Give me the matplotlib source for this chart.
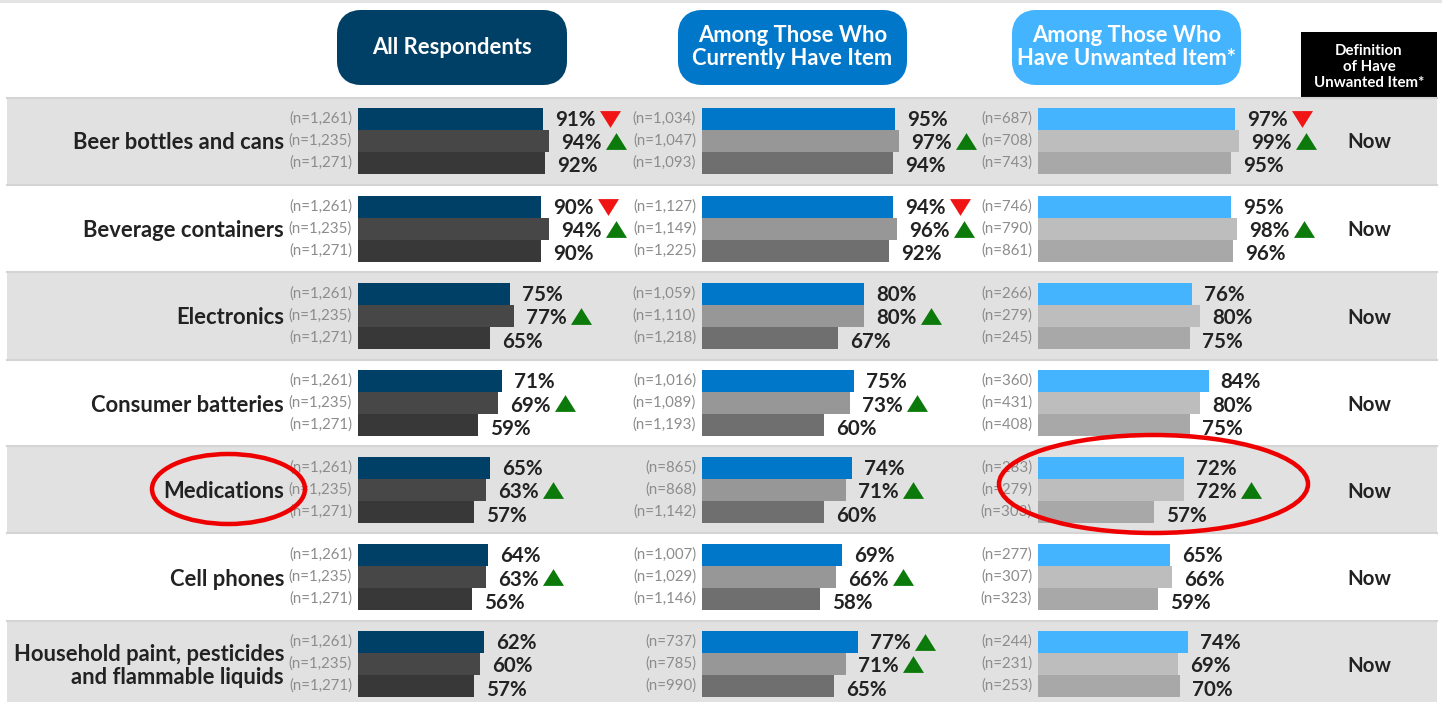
import matplotlib
matplotlib.use('Agg')
import matplotlib.pyplot as plt
from matplotlib.patches import Ellipse, FancyBboxPatch, Rectangle

W, H = 1442, 702

categories = ['Beer bottles and cans', 'Beverage containers', 'Electronics', 'Consumer batteries',
              'Medications', 'Cell phones', 'Household paint, pesticides\nand flammable liquids']
headers = ['All Respondents', 'Among Those Who\nCurrently Have Item', 'Among Those Who\nHave Unwanted Item*']
definition = 'Now'

# each row: three waves, top to bottom
all_vals = [[91, 94, 92], [90, 94, 90], [75, 77, 65], [71, 69, 59], [65, 63, 57], [64, 63, 56], [62, 60, 57]]
have_vals = [[95, 97, 94], [94, 96, 92], [80, 80, 67], [75, 73, 60], [74, 71, 60], [69, 66, 58], [77, 71, 65]]
unw_vals = [[97, 99, 95], [95, 98, 96], [76, 80, 75], [84, 80, 75], [72, 72, 57], [65, 66, 59], [74, 69, 70]]

all_n = [['1,261', '1,235', '1,271']] * 7
have_n = [['1,034', '1,047', '1,093'], ['1,127', '1,149', '1,225'], ['1,059', '1,110', '1,218'],
          ['1,016', '1,089', '1,193'], ['865', '868', '1,142'], ['1,007', '1,029', '1,146'], ['737', '785', '990']]
unw_n = [['687', '708', '743'], ['746', '790', '861'], ['266', '279', '245'], ['360', '431', '408'],
         ['283', '279', '303'], ['277', '307', '323'], ['244', '231', '253']]

# significance arrows: 1 up, -1 down, 0 none
all_sig = [[-1, 1, 0], [-1, 1, 0], [0, 1, 0], [0, 1, 0], [0, 1, 0], [0, 1, 0], [0, 0, 0]]
have_sig = [[0, 1, 0], [-1, 1, 0], [0, 1, 0], [0, 1, 0], [0, 1, 0], [0, 1, 0], [1, 1, 0]]
unw_sig = [[-1, 1, 0], [0, 1, 0], [0, 0, 0], [0, 0, 0], [0, 1, 0], [0, 0, 0], [0, 0, 0]]

panels = [
    (358, 337, 230, all_vals, all_n, all_sig, ['#003f66', '#474747', '#383838']),
    (702, 678, 229, have_vals, have_n, have_sig, ['#0077c8', '#979797', '#6f6f6f']),
    (1038, 1012, 229, unw_vals, unw_n, unw_sig, ['#45b4ff', '#bdbdbd', '#a8a8a8']),
]

plt.rcParams['font.family'] = ['Lato', 'DejaVu Sans']
TXT = '#222222'
PX = 0.72  # px to pt at dpi 100
FULL_SCALE = 203  # pixels for 100%

row_c = [140.5, 228.5, 316, 403, 490, 577, 664]
bands = [(98, 185), (272, 360), (446, 533), (621, 702)]
bar_h = 22

# marker vertices are in screen space, y up
UP = [(-1, -0.8), (1, -0.8), (0, 0.8)]
DOWN = [(-1, 0.8), (1, 0.8), (0, -0.8)]

fig = plt.figure(figsize=(W / 100, H / 100), dpi=100)

bg = fig.add_axes([0, 0, 1, 1], zorder=0)
bg.set_xlim(0, W)
bg.set_ylim(H, 0)
bg.axis('off')

bg.add_patch(Rectangle((0, 0), W, 3, color='#e4e4e4', lw=0))
for y0, y1 in bands:
    bg.add_patch(Rectangle((7, y0), 1430, y1 - y0, facecolor='#e1e1e1', edgecolor='none'))
    bg.plot([7, 1437], [y0, y0], color='#d4d4d4', lw=1.5)
    if y1 < H:
        bg.plot([7, 1437], [y1, y1], color='#d4d4d4', lw=1.5)

for (x0, bx, bw, vals, ns, sig, cols), head in zip(panels, headers):
    bg.add_patch(FancyBboxPatch((bx + 12, 22), bw - 24, 51, boxstyle='round,pad=0,rounding_size=12',
                                mutation_aspect=1, facecolor=cols[0], edgecolor=cols[0], lw=24 * PX))
    bg.text(bx + bw / 2, 47, head, color='white', ha='center', va='center', fontsize=22 * PX,
            fontweight='bold', linespacing=1.07)

    ax = fig.add_axes([x0 / W, 0, FULL_SCALE / W, 1], zorder=1)
    ax.set_xlim(0, 100)
    ax.set_ylim(H, 0)
    ax.axis('off')
    ax.patch.set_alpha(0)

    for r, yc in enumerate(row_c):
        for k in range(3):
            y = yc + (k - 1) * bar_h
            ax.barh(y, vals[r][k], height=bar_h, color=cols[k], clip_on=False)
            ax.annotate(f'{vals[r][k]}%', (vals[r][k], y + (k - 1) * 1.5 + 2.5), xytext=(12 * PX, 0),
                        textcoords='offset points', ha='left', va='center', fontsize=20.5 * PX,
                        fontweight='bold', color=TXT, annotation_clip=False)
            bg.text(x0 - 6, y, f'(n={ns[r][k]})', ha='right', va='center', fontsize=15 * PX, color='#8c8c8c')
            if sig[r][k] != 0:
                mk, col = (UP, '#0b7a0b') if sig[r][k] > 0 else (DOWN, '#f01414')
                ax.scatter(vals[r][k] + 67 * 100 / FULL_SCALE, y, marker=mk, s=(21 * PX) ** 2,
                           color=col, linewidths=0, clip_on=False)

for name, yc in zip(categories, row_c):
    bg.text(284, yc + 2, name, ha='right', va='center', fontsize=22 * PX, fontweight='bold',
            color=TXT, linespacing=1.1)
    bg.text(1369, yc + 2, definition, ha='center', va='center', fontsize=20.5 * PX, fontweight='bold', color=TXT)

bg.add_patch(Rectangle((1301, 32), 136, 65, color='black', lw=0))
bg.text(1369, 67, 'Definition\nof Have\nUnwanted Item*', color='white', ha='center', va='center',
        fontsize=15 * PX, fontweight='bold', linespacing=1.15)

top = fig.add_axes([0, 0, 1, 1], zorder=2)
top.set_xlim(0, W)
top.set_ylim(H, 0)
top.axis('off')
top.patch.set_alpha(0)
top.add_patch(Ellipse((228.5, 489), 153, 70, fill=False, edgecolor='#ee0000', lw=4.5 * PX))
top.add_patch(Ellipse((1153.5, 484), 309, 98, fill=False, edgecolor='#ee0000', lw=4.5 * PX))

fig.savefig('out.png', dpi=100)
